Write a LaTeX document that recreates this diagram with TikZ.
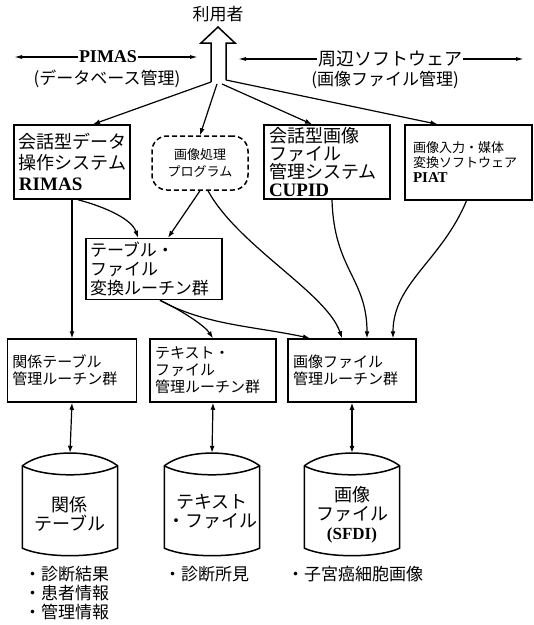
\documentclass[tikz,border=0pt]{standalone}
\usepackage{fontspec}
\setmainfont{Liberation Serif}
\newfontfamily\cjk{Noto Sans CJK JP}
\newfontfamily\latf{Liberation Serif}
\usetikzlibrary{arrows.meta}
\newcommand\fs[2]{\fontsize{#1}{#2}\selectfont}
\newcommand\lb[1]{{\latf\bfseries #1}}
\newcommand\drawcyl[1]{%
  \draw[line width=1.5pt, line join=round]
    ([yshift=-13pt]#1.north west)
      .. controls ([xshift=22pt,yshift=4pt]#1.north west) and ([xshift=-22pt,yshift=4pt]#1.north east) ..
    ([yshift=-13pt]#1.north east)
    -- ([yshift=7pt]#1.south east)
      .. controls ([xshift=-22pt,yshift=-3pt]#1.south east) and ([xshift=22pt,yshift=-3pt]#1.south west) ..
    ([yshift=7pt]#1.south west) -- cycle;
  \draw[line width=1.5pt]
    ([yshift=-13pt]#1.north west)
      .. controls ([xshift=22pt,yshift=-25pt]#1.north west) and ([xshift=-22pt,yshift=-25pt]#1.north east) ..
    ([yshift=-13pt]#1.north east);}
\begin{document}
\begin{tikzpicture}[x=1pt,y=-1pt,
  box/.style={draw, line width=1.5pt, align=left, inner ysep=0pt},
  conn/.style={line width=1.2pt, -{Latex[length=7pt,width=5pt]}},
  dconn/.style={line width=1.2pt, {Latex[length=7pt,width=5pt]}-{Latex[length=7pt,width=5pt]}},
  cylshape/.style={minimum width=95pt, minimum height=102pt, inner sep=0pt},
  cyltext/.style={font=\cjk\fs{18}{19}, align=center, inner sep=0pt},
  listtext/.style={font=\cjk\fs{17}{19}, align=left, inner sep=0pt, anchor=north west}]
\useasboundingbox (0,0) rectangle (534,625);

% user and hollow arrow
\node[font=\cjk\fs{17}{19}, inner sep=0pt] (user) at (218,14) {利用者};
\draw[line width=1.5pt, line join=miter] (211,82) -- (211,43) -- (201,43) -- (218,27) -- (235,43) -- (226,43) -- (226,80);
\coordinate (f1) at (211,82);
\coordinate (f2) at (217,84);
\coordinate (f3) at (222,84);
\coordinate (f4) at (226,80);

% PIMAS / peripheral software labels
\node[font=\latf\bfseries\fs{18}{20}, inner sep=1pt] (pimas) at (108,57) {PIMAS};
\node[font=\cjk\fs{17}{19}, inner sep=0pt] (pimassub) at (107,79) {(データベース管理)};
\coordinate (pl) at (14,57);
\coordinate (pr) at (198,57);
\draw[line width=1.2pt, -{Latex[length=8pt,width=4pt]}] (pimas.west) -- (pl);
\draw[line width=1.2pt, -{Latex[length=8pt,width=4pt]}] (pimas.east) -- (pr);
\node[font=\cjk\fs{18}{20}, inner sep=1pt] (periph) at (390,59) {周辺ソフトウェア};
\node[font=\cjk\fs{17}{19}, inner sep=0pt] (periphsub) at (385,80) {(画像ファイル管理)};
\coordinate (ql) at (238,59);
\coordinate (qr) at (524,59);
\draw[line width=1.2pt, -{Latex[length=8pt,width=4pt]}] (periph.west) -- (ql);
\draw[line width=1.2pt, -{Latex[length=8pt,width=4pt]}] (periph.east) -- (qr);

% row 1
\node[box, font=\cjk\fs{18}{21}, minimum width=116pt, minimum height=74pt, text width=106pt, inner xsep=5pt] (rimas) at (72,162)
  {会話型データ\\操作システム\\\lb{\fs{19}{21}RIMAS}};
\node[draw, dashed, dash pattern=on 5pt off 3pt, line width=1.5pt, rounded corners=15pt, align=center,
  font=\cjk\fs{13}{17}, minimum width=96pt, minimum height=54pt] (proc) at (200,163)
  {画像処理\\プログラム};
\node[box, font=\cjk\fs{18}{18}, minimum width=126pt, minimum height=74pt, text width=116pt, inner xsep=5pt] (cupid) at (327,162)
  {会話型画像\\ファイル\\管理システム\\\lb{\fs{19}{18}CUPID}};
\node[box, font=\cjk\fs{13}{15}, minimum width=127pt, minimum height=75pt, text width=111pt, inner xsep=8pt] (piat) at (468.5,162.5)
  {画像入力・媒体\\変換ソフトウェア\\\lb{\fs{15}{15}PIAT}};

% row 2
\node[box, font=\cjk\fs{17}{19}, minimum width=136pt, minimum height=61pt, text width=128pt, inner xsep=4pt] (conv) at (154,269)
  {テーブル・\\ファイル\\変換ルーチン群};

% row 3
\node[box, font=\cjk\fs{15}{17}, minimum width=129pt, minimum height=63pt, text width=119pt, inner xsep=5pt] (relmgr) at (72,370.5)
  {関係テーブル\\管理ルーチン群};
\node[box, font=\cjk\fs{15}{17}, minimum width=126pt, minimum height=63pt, text width=116pt, inner xsep=5pt] (txtmgr) at (213,370.5)
  {テキスト・\\ファイル\\管理ルーチン群};
\node[box, font=\cjk\fs{15}{17}, minimum width=128pt, minimum height=63pt, text width=118pt, inner xsep=5pt] (imgmgr) at (352,370.5)
  {画像ファイル\\管理ルーチン群};

% cylinders
\node[cylshape] (cyl1) at (70,504) {};
\node[cylshape] (cyl2) at (212,504) {};
\node[cylshape] (cyl3) at (352,504) {};
\drawcyl{cyl1}\drawcyl{cyl2}\drawcyl{cyl3}
\node[cyltext] (cyl1t) at (70,514) {関係\\テーブル};
\node[cyltext] (cyl2t) at (212,512) {テキスト\\・ファイル};
\node[cyltext] (cyl3t) at (352,515) {画像\\ファイル\\\lb{\fs{17}{19}(SFDI)}};

% lists
\node[listtext] (list1) at (24,566) {・診断結果\\・患者情報\\・管理情報};
\node[listtext] (list2) at (164,566) {・診断所見};
\node[listtext] (list3) at (287,566) {・子宮癌細胞画像};

% fan-out from user arrow
\draw[conn] (f1) -- ([xshift=21pt]rimas.north);
\draw[conn] (f2) -- (proc.north);
\draw[conn] (f3) -- ([xshift=-15pt]cupid.north);
\draw[conn] (f4) -- ([xshift=-31pt]piat.north);

% connectors
\draw[conn] (rimas.south) -- (relmgr.north);
\draw[conn] ([xshift=6pt]rimas.south) .. controls +(30,8) and +(-6,-18) .. ([xshift=-16pt]conv.north);
\draw[conn] (proc.south) -- ([xshift=14pt]conv.north);
\draw[conn] ([xshift=8pt]proc.south) .. controls +(30,55) and +(-15,-45) .. ([xshift=-10pt]imgmgr.north);
\draw[conn] ([xshift=5pt]cupid.south) .. controls +(2,70) and +(0,-60) .. ([xshift=15pt]imgmgr.north);
\draw[conn] ([xshift=-2pt]piat.south) .. controls +(-25,60) and +(0,-55) .. ([xshift=41pt]imgmgr.north);
\draw[conn] ([xshift=6pt]conv.south) .. controls +(25,12) and +(-8,-12) .. (txtmgr.north);
\draw[conn] ([xshift=6pt]conv.south) .. controls +(45,25) and +(-55,-12) .. ([xshift=-42pt]imgmgr.north);

% bidirectional
\draw[dconn] (relmgr.south) -- (cyl1.north);
\draw[dconn] (txtmgr.south) -- (cyl2.north);
\draw[dconn] (imgmgr.south) -- (cyl3.north);
\end{tikzpicture}
\end{document}
